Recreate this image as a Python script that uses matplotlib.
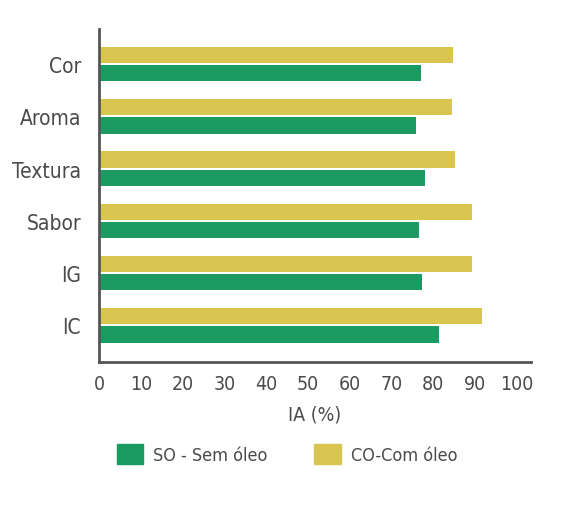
import numpy as np
import matplotlib
matplotlib.use("Agg")
import matplotlib.pyplot as plt
from matplotlib.patches import Patch

# data
categories = ["Cor", "Aroma", "Textura", "Sabor", "IG", "IC"]
so_values = [77.0, 75.8, 78.0, 76.6, 77.3, 81.3]   # SO - Sem óleo
co_values = [84.7, 84.4, 85.2, 89.2, 89.2, 91.6]   # CO-Com óleo
xticks = list(range(0, 101, 10))

green = "#1b9a61"
yellow = "#d9c651"
text_col = "#4a4a4a"
spine_col = "#555555"

plt.rcParams["font.family"] = ["DejaVu Sans"]
plt.rcParams["font.stretch"] = "condensed"

fig = plt.figure(figsize=(5.8, 5.06), dpi=100)
ax = fig.add_axes([99 / 580, 143 / 506, 432 / 580, 333 / 506])

y = np.arange(len(categories))
h = 0.31
ax.barh(y - h / 2 - 0.02, co_values, height=h, color=yellow)
ax.barh(y + h / 2 + 0.02, so_values, height=h, color=green)

ax.set_xlim(0, 103.4)
ax.set_ylim(5.7, -0.67)
ax.set_yticks(y)
ax.set_yticklabels(categories, fontsize=15, color=text_col)
ax.set_xticks(xticks)
ax.set_xticklabels([str(t) for t in xticks], fontsize=14, color=text_col)
ax.tick_params(axis="y", length=0, pad=13)
ax.tick_params(axis="x", length=0, pad=9)
ax.set_xlabel("IA (%)", fontsize=14, color=text_col, labelpad=8)

for s in ["top", "right"]:
    ax.spines[s].set_visible(False)
for s in ["left", "bottom"]:
    ax.spines[s].set_color(spine_col)
    ax.spines[s].set_linewidth(2.0)

handles = [Patch(color=green, label="SO - Sem óleo"),
           Patch(color=yellow, label="CO-Com óleo")]
fig.legend(handles=handles, loc="center left", bbox_to_anchor=(117 / 580, 1 - 455 / 506),
           ncol=2, frameon=False, fontsize=13, handlelength=1.45, handleheight=1.4,
           handletextpad=0.55, columnspacing=2.6, borderpad=0, borderaxespad=0,
           labelcolor=text_col)

fig.savefig("out.png", dpi=100)
